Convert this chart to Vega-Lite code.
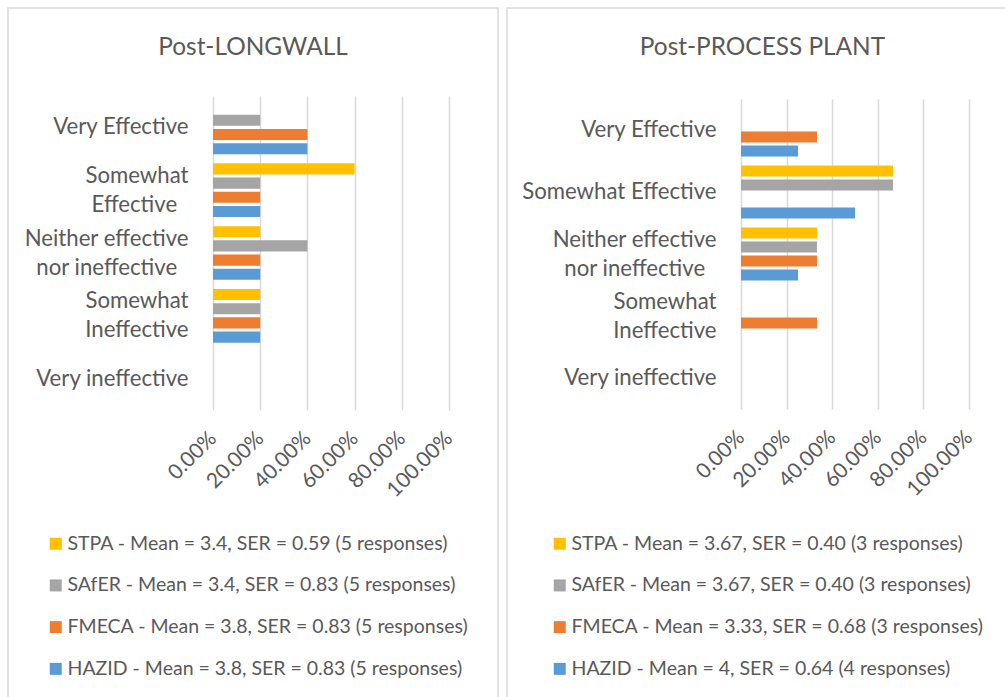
{
  "$schema": "https://vega.github.io/schema/vega-lite/v6.json",
  "padding": {"left": 7, "top": 7, "right": 0, "bottom": 0},
  "background": "white",
  "bounds": "flush",
  "spacing": 9,
  "config": {
    "font": "Lato",
    "view": {"stroke": "#d9d9d9", "strokeWidth": 1.5},
    "axis": {"labelColor": "#595959", "labelFont": "Lato"},
    "legend": {"labelColor": "#595959", "labelFont": "Lato"},
    "title": {"color": "#595959", "fontSize": 24.4, "fontWeight": "normal", "font": "Lato", "anchor": "middle", "frame": "group", "offset": -52}
  },
  "datasets": {
    "longwall": [
      {"rating": "Very Effective", "method": "STPA", "share": 0},
      {"rating": "Very Effective", "method": "SAfER", "share": 0.2},
      {"rating": "Very Effective", "method": "FMECA", "share": 0.4},
      {"rating": "Very Effective", "method": "HAZID", "share": 0.4},
      {"rating": "Somewhat Effective", "method": "STPA", "share": 0.6},
      {"rating": "Somewhat Effective", "method": "SAfER", "share": 0.2},
      {"rating": "Somewhat Effective", "method": "FMECA", "share": 0.2},
      {"rating": "Somewhat Effective", "method": "HAZID", "share": 0.2},
      {"rating": "Neither effective nor ineffective", "method": "STPA", "share": 0.2},
      {"rating": "Neither effective nor ineffective", "method": "SAfER", "share": 0.4},
      {"rating": "Neither effective nor ineffective", "method": "FMECA", "share": 0.2},
      {"rating": "Neither effective nor ineffective", "method": "HAZID", "share": 0.2},
      {"rating": "Somewhat Ineffective", "method": "STPA", "share": 0.2},
      {"rating": "Somewhat Ineffective", "method": "SAfER", "share": 0.2},
      {"rating": "Somewhat Ineffective", "method": "FMECA", "share": 0.2},
      {"rating": "Somewhat Ineffective", "method": "HAZID", "share": 0.2},
      {"rating": "Very ineffective", "method": "STPA", "share": 0},
      {"rating": "Very ineffective", "method": "SAfER", "share": 0},
      {"rating": "Very ineffective", "method": "FMECA", "share": 0},
      {"rating": "Very ineffective", "method": "HAZID", "share": 0}
    ],
    "plant": [
      {"rating": "Very Effective", "method": "STPA", "share": 0},
      {"rating": "Very Effective", "method": "SAfER", "share": 0},
      {"rating": "Very Effective", "method": "FMECA", "share": 0.3333},
      {"rating": "Very Effective", "method": "HAZID", "share": 0.25},
      {"rating": "Somewhat Effective", "method": "STPA", "share": 0.6667},
      {"rating": "Somewhat Effective", "method": "SAfER", "share": 0.6667},
      {"rating": "Somewhat Effective", "method": "FMECA", "share": 0},
      {"rating": "Somewhat Effective", "method": "HAZID", "share": 0.5},
      {"rating": "Neither effective nor ineffective", "method": "STPA", "share": 0.3333},
      {"rating": "Neither effective nor ineffective", "method": "SAfER", "share": 0.3333},
      {"rating": "Neither effective nor ineffective", "method": "FMECA", "share": 0.3333},
      {"rating": "Neither effective nor ineffective", "method": "HAZID", "share": 0.25},
      {"rating": "Somewhat Ineffective", "method": "STPA", "share": 0},
      {"rating": "Somewhat Ineffective", "method": "SAfER", "share": 0},
      {"rating": "Somewhat Ineffective", "method": "FMECA", "share": 0.3333},
      {"rating": "Somewhat Ineffective", "method": "HAZID", "share": 0},
      {"rating": "Very ineffective", "method": "STPA", "share": 0},
      {"rating": "Very ineffective", "method": "SAfER", "share": 0},
      {"rating": "Very ineffective", "method": "FMECA", "share": 0},
      {"rating": "Very ineffective", "method": "HAZID", "share": 0}
    ]
  },
  "resolve": {
    "scale": {"color": "independent", "x": "independent", "y": "independent", "yOffset": "independent"},
    "legend": {"color": "independent"},
    "axis": {"x": "independent", "y": "independent"}
  },
  "hconcat": [
    {
      "title": {"text": "Post-LONGWALL"},
      "width": 490,
      "height": 690,
      "data": {"name": "longwall"},
      "mark": {"type": "bar"},
      "encoding": {
        "y": {
          "field": "rating", "type": "nominal",
          "scale": {"domain": ["Very Effective", "Somewhat Effective", "Neither effective nor ineffective", "Somewhat Ineffective", "Very ineffective"], "range": [88, 402], "paddingInner": 0, "paddingOuter": 0},
          "axis": {"title": null, "orient": "left", "offset": -205, "domain": false, "ticks": false, "tickSize": 0, "grid": false, "labelPadding": 25, "labelFontSize": 22.2, "labelLineHeight": 29, "labelLimit": 0, "labelAlign": "right", "labelBaseline": "middle",
            "labelOffset": {"condition": {"test": "datum.value == 'Somewhat Effective' || datum.value == 'Neither effective nor ineffective' || datum.value == 'Somewhat Ineffective'", "value": -14.5}, "value": 0},
            "labelExpr": "datum.value == 'Somewhat Effective' ? ['Somewhat', 'Effective\u00a0\u00a0\u2060'] : datum.value == 'Neither effective nor ineffective' ? ['Neither effective', 'nor ineffective\u00a0\u00a0\u2060'] : datum.value == 'Somewhat Ineffective' ? ['Somewhat', 'Ineffective'] : datum.value"}
        },
        "x": {
          "field": "share", "type": "quantitative",
          "scale": {"domain": [0, 1], "range": [205, 441], "nice": false},
          "axis": {"title": null, "orient": "top", "offset": -402, "values": [0, 0.2, 0.4, 0.6, 0.8, 1], "format": ".2%", "grid": true, "gridColor": "#d9d9d9", "gridWidth": 1.5, "domain": false, "ticks": false, "tickSize": 0, "labelAngle": -45, "labelAlign": "right", "labelBaseline": "middle", "labelPadding": -25, "labelFontSize": 21, "labelOverlap": false, "labelBound": false, "labelFlush": false}
        },
        "yOffset": {
          "field": "method", "type": "nominal",
          "scale": {"domain": ["STPA", "SAfER", "FMECA", "HAZID"], "paddingInner": 0.22, "paddingOuter": 0.32}
        },
        "color": {
          "field": "method", "type": "nominal",
          "scale": {"domain": ["STPA", "SAfER", "FMECA", "HAZID"], "range": ["#FFC000", "#A5A5A5", "#ED7D31", "#5B9BD5"]},
          "legend": {"title": null, "orient": "none", "legendX": 38, "legendY": 526, "direction": "vertical", "symbolType": "square", "symbolSize": 144, "symbolStrokeWidth": 0, "labelFontSize": 19.5, "labelOffset": 2, "rowPadding": 20.7, "labelLimit": 0, "padding": 0,
            "labelExpr": "datum.value == 'STPA' ? 'STPA - Mean = 3.4, SER = 0.59 (5 responses)' : datum.value == 'SAfER' ? 'SAfER - Mean = 3.4, SER = 0.83 (5 responses)' : datum.value == 'FMECA' ? 'FMECA - Mean = 3.8, SER = 0.83 (5 responses)' : 'HAZID - Mean = 3.8, SER = 0.83 (5 responses)'"}
        }
      }
    },
    {
      "title": {"text": "Post-PROCESS PLANT", "dx": 6},
      "width": 499,
      "height": 690,
      "data": {"name": "plant"},
      "mark": {"type": "bar"},
      "encoding": {
        "y": {
          "field": "rating", "type": "nominal",
          "scale": {"domain": ["Very Effective", "Somewhat Effective", "Neither effective nor ineffective", "Somewhat Ineffective", "Very ineffective"], "range": [91, 401], "paddingInner": 0, "paddingOuter": 0},
          "axis": {"title": null, "orient": "left", "offset": -234, "domain": false, "ticks": false, "tickSize": 0, "grid": false, "labelPadding": 25, "labelFontSize": 22.2, "labelLineHeight": 29, "labelLimit": 0, "labelAlign": "right", "labelBaseline": "middle",
            "labelOffset": {"condition": {"test": "datum.value == 'Neither effective nor ineffective' || datum.value == 'Somewhat Ineffective'", "value": -14.5}, "value": 0},
            "labelExpr": "datum.value == 'Neither effective nor ineffective' ? ['Neither effective', 'nor ineffective\u00a0\u00a0\u2060'] : datum.value == 'Somewhat Ineffective' ? ['Somewhat', 'Ineffective'] : datum.value"}
        },
        "x": {
          "field": "share", "type": "quantitative",
          "scale": {"domain": [0, 1], "range": [234, 462], "nice": false},
          "axis": {"title": null, "orient": "top", "offset": -401, "values": [0, 0.2, 0.4, 0.6, 0.8, 1], "format": ".2%", "grid": true, "gridColor": "#d9d9d9", "gridWidth": 1.5, "domain": false, "ticks": false, "tickSize": 0, "labelAngle": -45, "labelAlign": "right", "labelBaseline": "middle", "labelPadding": -25, "labelFontSize": 21, "labelOverlap": false, "labelBound": false, "labelFlush": false}
        },
        "yOffset": {
          "field": "method", "type": "nominal",
          "scale": {"domain": ["STPA", "SAfER", "FMECA", "HAZID"], "paddingInner": 0.22, "paddingOuter": 0.32}
        },
        "color": {
          "field": "method", "type": "nominal",
          "scale": {"domain": ["STPA", "SAfER", "FMECA", "HAZID"], "range": ["#FFC000", "#A5A5A5", "#ED7D31", "#5B9BD5"]},
          "legend": {"title": null, "orient": "none", "legendX": 43, "legendY": 526, "direction": "vertical", "symbolType": "square", "symbolSize": 144, "symbolStrokeWidth": 0, "labelFontSize": 19.5, "labelOffset": 2, "rowPadding": 20.7, "labelLimit": 0, "padding": 0,
            "labelExpr": "datum.value == 'STPA' ? 'STPA - Mean = 3.67, SER = 0.40 (3 responses)' : datum.value == 'SAfER' ? 'SAfER - Mean = 3.67, SER = 0.40 (3 responses)' : datum.value == 'FMECA' ? 'FMECA - Mean = 3.33, SER = 0.68 (3 responses)' : 'HAZID - Mean = 4, SER = 0.64 (4 responses)'"}
        }
      }
    }
  ]
}
